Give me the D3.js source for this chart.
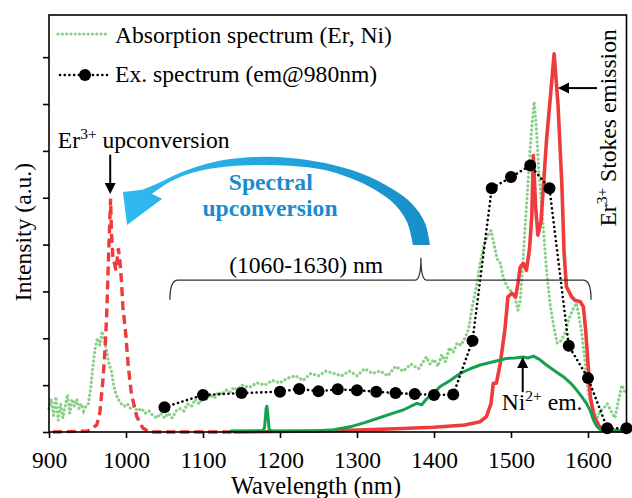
<!DOCTYPE html>
<html>
<head>
<meta charset="utf-8">
<script src="https://cdn.jsdelivr.net/npm/d3@7/dist/d3.min.js"></script>
<style>
body{margin:0;background:#fff;}
svg text{font-family:"Liberation Serif","Times New Roman",serif;}
</style>
</head>
<body>
<svg width="632" height="498"></svg>
<script>
// ---- data (wavelength nm, intensity a.u.) ----
var wavelengthTicks=[900,1000,1100,1200,1300,1400,1500,1600];
var intensityTicks=[0,1,2,3,4,5,6,7,8];

var absorption=[[900,0.5],[903,0.7],[906,0.35],[909,0.75],[912,0.25],[915,0.6],[918,0.3],[921,0.55],[924,0.8],[927,0.4],[930,0.7],[933,0.55],[936,0.7],[939,0.5],[942,0.6],[945,0.45],[948,0.55],[951,0.6],[954,0.9],[957,1.4],[960,1.8],[963,2.0],[966,1.85],[969,2.15],[972,1.95],[975,1.7],[978,1.45],[981,1.3],[984,1.0],[987,0.8],[990,0.7],[994,0.6],[998,0.55],[1002,0.6],[1006,0.5],[1010,0.55],[1015,0.45],[1020,0.5],[1025,0.4],[1030,0.45],[1035,0.35],[1040,0.3],[1045,0.4],[1050,0.3],[1055,0.4],[1060,0.3],[1065,0.45],[1070,0.5],[1075,0.45],[1080,0.6],[1085,0.55],[1090,0.7],[1095,0.6],[1100,0.75],[1105,0.7],[1110,0.8],[1115,0.72],[1120,0.85],[1125,0.8],[1130,0.9],[1135,0.85],[1140,0.95],[1145,0.9],[1150,1.0],[1160,0.95],[1170,1.05],[1180,1.0],[1190,1.1],[1200,1.05],[1210,1.15],[1220,1.2],[1230,1.1],[1240,1.25],[1250,1.2],[1260,1.3],[1270,1.25],[1280,1.2],[1290,1.3],[1300,1.2],[1310,1.35],[1320,1.25],[1330,1.3],[1340,1.2],[1350,1.4],[1360,1.3],[1370,1.45],[1380,1.35],[1390,1.6],[1395,1.45],[1400,1.55],[1405,1.4],[1410,1.65],[1415,1.5],[1420,1.8],[1425,1.7],[1430,1.9],[1435,1.85],[1440,2.0],[1445,2.2],[1450,2.7],[1455,3.1],[1460,3.6],[1465,4.0],[1470,4.2],[1474,4.3],[1478,4.0],[1482,3.7],[1486,3.6],[1490,3.3],[1495,3.1],[1500,3.0],[1505,2.9],[1509,2.6],[1512,2.8],[1515,3.5],[1518,4.3],[1522,5.3],[1526,6.3],[1530,7.05],[1533,6.5],[1536,5.6],[1540,4.8],[1543,4.1],[1547,3.3],[1551,2.7],[1556,2.2],[1560,1.9],[1565,1.95],[1570,2.1],[1575,2.4],[1580,2.6],[1585,2.75],[1588,2.5],[1592,2.1],[1596,1.5],[1600,0.9],[1604,0.6],[1608,0.4],[1612,0.3],[1616,0.45],[1620,0.5],[1625,0.6],[1630,0.45],[1635,0.3],[1640,0.7],[1644,1.0],[1648,0.85],[1650,0.9]];

var excitation=[[1050,0.53],[1100,0.79],[1150,0.83],[1200,0.86],[1225,0.92],[1250,0.87],[1275,0.91],[1300,0.89],[1325,0.86],[1350,0.83],[1375,0.81],[1400,0.79],[1425,0.8],[1450,1.95],[1475,5.2],[1500,5.44],[1525,5.69],[1550,5.2],[1575,1.84],[1600,1.15],[1625,0.08],[1650,0.08]];

var upconversion=[[905,0],[950,0.02],[953,0.04],[962,0.15],[966,0.4],[970,1.1],[973,1.82],[975,2.53],[977,3.6],[979,4.52],[980,4.98],[981,4.3],[983,3.74],[987,3.45],[990,3.92],[992,3.67],[994,3.24],[996,2.67],[1000,2.03],[1003,1.39],[1007,0.82],[1014,0.33],[1022,0.08],[1031,0],[1140,0]];

var stokes=[[1140,0],[1200,0.01],[1250,0.02],[1300,0.04],[1350,0.07],[1400,0.1],[1440,0.15],[1460,0.22],[1468,0.33],[1474,0.6],[1477,1.04],[1481,1.04],[1486,1.46],[1492,2.17],[1496,2.88],[1501,2.96],[1506,2.88],[1509,3.17],[1512,3.52],[1516,3.6],[1520,3.45],[1524,3.9],[1527,4.6],[1529,5.9],[1532,4.8],[1535,4.2],[1539,4.5],[1546,6.2],[1553,7.5],[1556,8.07],[1561,7.0],[1566,5.3],[1569,3.8],[1572,3.1],[1579,2.88],[1583,2.81],[1590,2.78],[1594,2.67],[1597,2.17],[1600,1.46],[1603,0.75],[1608,0.33],[1615,0.11],[1624,0.04],[1650,0.02]];

var niEmission=[[1135,0.02],[1178,0.03],[1180,0.1],[1182,0.5],[1183,0.55],[1184,0.4],[1186,0.05],[1190,0.02],[1245,0.02],[1270,0.05],[1291,0.11],[1310,0.2],[1334,0.33],[1350,0.42],[1360,0.47],[1370,0.55],[1378,0.61],[1384,0.58],[1390,0.7],[1399,0.82],[1408,0.97],[1421,1.1],[1434,1.25],[1447,1.35],[1460,1.43],[1477,1.5],[1494,1.57],[1505,1.58],[1516,1.6],[1522,1.58],[1529,1.62],[1537,1.55],[1546,1.43],[1557,1.3],[1568,1.18],[1577,1.05],[1585,0.9],[1592,0.75],[1598,0.61],[1603,0.45],[1607,0.26],[1611,0.13],[1616,0.05],[1625,0.02],[1650,0.02]];

var legendLabels=["Absorption spectrum (Er, Ni)","Ex. spectrum (em@980nm)"];

// ---- layout ----
var svg=d3.select("svg");
var plotLeft=49,plotRight=626.5,plotTop=15,plotBottom=432;
var fs="23.6px";

var x=d3.scaleLinear().domain([900,1650]).range([plotLeft,plotRight]);
var y=d3.scaleLinear().domain([0,8.9]).range([plotBottom,plotTop]);

var line=d3.line().x(d=>x(d[0])).y(d=>y(d[1]));

// axes
var xaxis=d3.axisBottom(x).tickValues(wavelengthTicks).tickFormat(d3.format("d")).tickSize(6).tickSizeOuter(0);
var gx=svg.append("g").attr("transform","translate(0,"+plotBottom+")").call(xaxis);
gx.select(".domain").remove();
gx.selectAll("line").attr("stroke","#000").attr("stroke-width",1.6);
gx.selectAll("text").attr("dy",0).attr("y",36).attr("fill","#000")
  .style("font-family","Liberation Serif").style("font-size","23.5px");

var yaxis=d3.axisLeft(y).tickValues(intensityTicks).tickSize(6).tickFormat("");
var gy=svg.append("g").attr("transform","translate("+plotLeft+",0)").call(yaxis);
gy.select(".domain").remove();
gy.selectAll("line").attr("stroke","#000").attr("stroke-width",1.6);

// series
svg.append("path").datum(absorption).attr("d",line)
  .attr("fill","none").attr("stroke","#8ccf88").attr("stroke-width",3.2)
  .attr("stroke-linecap","round").attr("stroke-dasharray","0.1 4.2");

svg.append("path").datum(upconversion).attr("d",line)
  .attr("fill","none").attr("stroke","#ee3b3b").attr("stroke-width",3.4)
  .attr("stroke-dasharray","9 5");

svg.append("path").datum(stokes).attr("d",line)
  .attr("fill","none").attr("stroke","#ee3b3b").attr("stroke-width",3.6)
  .attr("stroke-linejoin","round");

svg.append("path").datum(niEmission).attr("d",line)
  .attr("fill","none").attr("stroke","#14a04e").attr("stroke-width",3)
  .attr("stroke-linejoin","round");

svg.append("path").datum(excitation).attr("d",line)
  .attr("fill","none").attr("stroke","#000").attr("stroke-width",2.6)
  .attr("stroke-linecap","round").attr("stroke-dasharray","0.1 4.6");

svg.selectAll("circle.ex").data(excitation).enter().append("circle")
  .attr("class","ex").attr("cx",d=>x(d[0])).attr("cy",d=>y(d[1])).attr("r",6).attr("fill","#000");

// frame
svg.append("rect").attr("x",plotLeft).attr("y",plotTop).attr("width",plotRight-plotLeft).attr("height",plotBottom-plotTop)
  .attr("fill","none").attr("stroke","#000").attr("stroke-width",1.6);

// legend
var lg=svg.append("g");
lg.append("line").attr("x1",58).attr("x2",107).attr("y1",34).attr("y2",34)
  .attr("stroke","#8ccf88").attr("stroke-width",3.2).attr("stroke-linecap","round").attr("stroke-dasharray","0.1 4.2");
lg.append("line").attr("x1",60).attr("x2",107).attr("y1",75).attr("y2",75)
  .attr("stroke","#000").attr("stroke-width",2.6).attr("stroke-linecap","round").attr("stroke-dasharray","0.1 4.6");
lg.append("circle").attr("cx",85).attr("cy",75).attr("r",6).attr("fill","#000");
lg.selectAll("text").data(legendLabels).enter().append("text")
  .attr("x",115).attr("y",(d,i)=>43+i*39).style("font-size",fs).text(d=>d);

// arrows
function arrow(x1,y1,x2,y2){
  var a=Math.atan2(y2-y1,x2-x1),L=11,W=5.5;
  var bx=x2-L*Math.cos(a),by=y2-L*Math.sin(a);
  svg.append("line").attr("x1",x1).attr("y1",y1).attr("x2",bx).attr("y2",by)
    .attr("stroke","#000").attr("stroke-width",2);
  svg.append("path").attr("d","M"+x2+","+y2+"L"+(bx-W*Math.sin(a))+","+(by+W*Math.cos(a))+
    "L"+(bx+W*Math.sin(a))+","+(by-W*Math.cos(a))+"Z").attr("fill","#000");
}

// Er3+ upconversion
var t1=svg.append("text").attr("x",x(911.5)).attr("y",y(6.06)).style("font-size",fs);
t1.append("tspan").text("Er");
t1.append("tspan").attr("dy",-9).style("font-size","15.5px").text("3+");
t1.append("tspan").attr("dy",9).text(" upconversion");
arrow(x(979.5),y(5.92),x(979.5),y(5.08));

// Er3+ Stokes emission (vertical)
var t2=svg.append("text").attr("text-anchor","middle")
  .attr("transform","translate("+x(1636.4)+","+y(6.49)+") rotate(-90)").style("font-size",fs);
t2.append("tspan").text("Er");
t2.append("tspan").attr("dy",-9).style("font-size","15.5px").text("3+");
t2.append("tspan").attr("dy",9).text(" Stokes emission");
arrow(x(1611.7),y(7.34),x(1561),y(7.34));

// Ni2+ em.
var t3=svg.append("text").attr("x",x(1488)).attr("y",y(0.47)).style("font-size",fs);
t3.append("tspan").text("Ni");
t3.append("tspan").attr("dy",-9).style("font-size","15.5px").text("2+");
t3.append("tspan").attr("dy",9).text(" em.");
arrow(x(1515.2),y(0.85),x(1515.2),y(1.6));

// brace (1060-1630) nm
var bL=x(1057),bR=x(1604),bM=x(1383),bY=y(3.24),bE=y(2.82),bT=y(3.72);
svg.append("path").attr("d",
  "M"+bL+","+bE+"Q"+bL+","+bY+" "+(bL+8)+","+bY+
  "L"+(bM-6)+","+bY+"Q"+bM+","+bY+" "+bM+","+bT+
  "Q"+bM+","+bY+" "+(bM+6)+","+bY+
  "L"+(bR-8)+","+bY+"Q"+bR+","+bY+" "+bR+","+bE)
  .attr("fill","none").attr("stroke","#333").attr("stroke-width",1.3);
svg.append("text").attr("x",x(1234)).attr("y",y(3.39)).attr("text-anchor","middle")
  .style("font-size",fs).text("(1060-1630) nm");

// spectral upconversion arrow
var grad=svg.append("defs").append("linearGradient").attr("id","blue")
  .attr("gradientUnits","userSpaceOnUse").attr("x1",x(1000)).attr("x2",x(1395)).attr("y1",0).attr("y2",0);
grad.append("stop").attr("offset",0).attr("stop-color","#2fbaf0");
grad.append("stop").attr("offset",0.55).attr("stop-color","#21a3dd");
grad.append("stop").attr("offset",1).attr("stop-color","#178ec7");

var outerEdge=[[1394.8,3.99],[1388.3,4.46],[1371.4,4.87],[1345.5,5.19],[1306.5,5.51],[1258.4,5.74],[1213,5.85],[1170,5.87],[1128.6,5.81],[1096,5.68],[1067.5,5.51],[1041.6,5.31],[1020.8,5.17]];
var head=[[996,5.12],[1001.3,4.42],[1047,4.98]];
var innerEdge=[[1033.8,5.08],[1057,5.34],[1089.6,5.55],[1128.6,5.66],[1170,5.7],[1213,5.68],[1258.4,5.59],[1291,5.42],[1323.4,5.17],[1349.4,4.85],[1365,4.48],[1372.7,3.99]];
var smooth=d3.line().x(d=>x(d[0])).y(d=>y(d[1])).curve(d3.curveCatmullRom);
var dArrow=smooth(outerEdge)+head.map(p=>"L"+x(p[0])+","+y(p[1])).join("")+
  smooth(innerEdge).replace(/^M/,"L")+"Z";
svg.append("path").attr("d",dArrow).attr("fill","url(#blue)");

svg.append("text").attr("x",x(1188)).attr("y",y(5.17)).attr("text-anchor","middle")
  .style("font-size",fs).style("font-weight","bold").attr("fill","#1b8bcf").text("Spectral");
svg.append("text").attr("x",x(1187)).attr("y",y(4.6)).attr("text-anchor","middle")
  .style("font-size",fs).style("font-weight","bold").attr("fill","#1b8bcf").text("upconversion");

// axis titles
svg.append("text").attr("transform","translate(31,232) rotate(-90)").attr("text-anchor","middle")
  .style("font-size",fs).text("Intensity (a.u.)");
svg.append("text").attr("x",316).attr("y",494).attr("text-anchor","middle")
  .style("font-size","24.5px").text("Wavelength (nm)");
</script>
</body>
</html>
